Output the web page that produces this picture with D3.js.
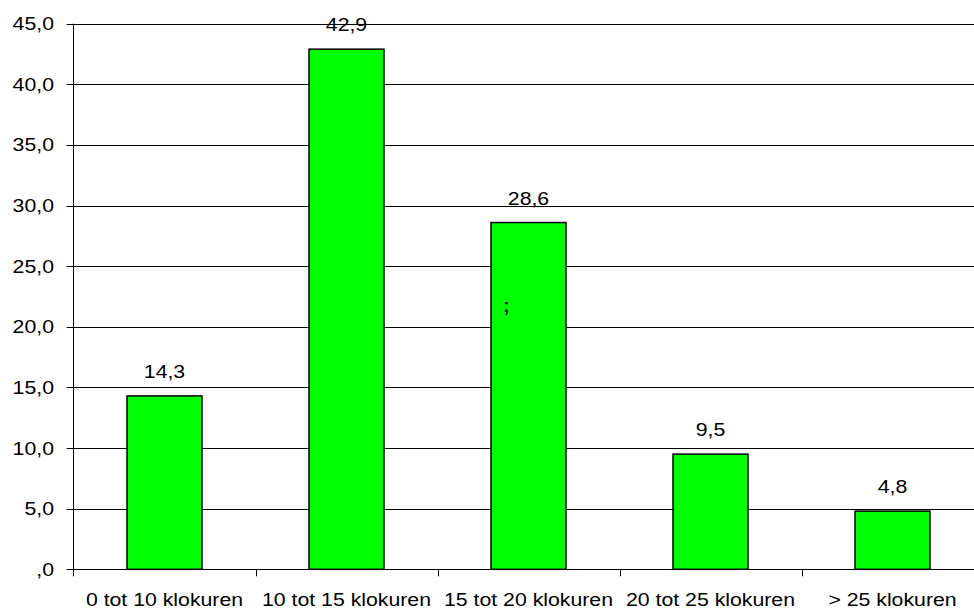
<!DOCTYPE html>
<html><head><meta charset="utf-8">
<script src="https://cdn.jsdelivr.net/npm/d3@7"></script>
<style>html,body{margin:0;padding:0;background:#fff;overflow:hidden}</style>
</head><body>
<svg id="c" width="974" height="609"></svg>
<script>
const categories = ["0 tot 10 klokuren","10 tot 15 klokuren","15 tot 20 klokuren","20 tot 25 klokuren","> 25 klokuren"];
const values = [14.3, 42.9, 28.6, 9.5, 4.8];
const valueLabels = ["14,3","42,9","28,6","9,5","4,8"];
const yTicks = [0,5,10,15,20,25,30,35,40,45];
const yTickLabels = [",0","5,0","10,0","15,0","20,0","25,0","30,0","35,0","40,0","45,0"];

const svg = d3.select("#c");
const pLeft = 73.5, pRight = 983.5, pTop = 23.7, pBottom = 569.3;
const font = "'Liberation Sans', Arial, sans-serif";
const sx = 1.12, fs = 19;

const x = d3.scaleBand().domain(categories).range([pLeft, pRight]).paddingInner(0.588).paddingOuter(0.294);
const y = d3.scaleLinear().domain([0, 45]).range([pBottom, pTop]);
const step = x.step();

// gridlines
svg.append("g").selectAll("line").data(yTicks).join("line")
  .attr("x1", pLeft - 7).attr("x2", 974)
  .attr("y1", d => Math.round(y(d)) + 0.5).attr("y2", d => Math.round(y(d)) + 0.5)
  .attr("stroke", "#000").attr("stroke-width", 1);

// y labels
svg.append("g").selectAll("text").data(yTicks).join("text")
  .attr("transform", d => `translate(54,${y(d) + 6.5}) scale(${sx},1)`)
  .attr("text-anchor", "end")
  .attr("font-family", font).attr("font-size", fs).attr("fill", "#000")
  .text((d, i) => yTickLabels[i]);

// y axis line
svg.append("line").attr("x1", pLeft).attr("x2", pLeft).attr("y1", pTop).attr("y2", pBottom + 7)
  .attr("stroke", "#000").attr("stroke-width", 1);

// x tick marks at band boundaries
const bounds = categories.map((c, i) => pLeft + step * i).slice(1);
svg.append("g").selectAll("line").data(bounds).join("line")
  .attr("x1", d => Math.round(d) + 0.5).attr("x2", d => Math.round(d) + 0.5)
  .attr("y1", pBottom).attr("y2", pBottom + 7)
  .attr("stroke", "#000").attr("stroke-width", 1);

// bars
svg.append("g").selectAll("rect").data(values).join("rect")
  .attr("x", (d, i) => x(categories[i]))
  .attr("y", d => y(d))
  .attr("width", x.bandwidth())
  .attr("height", d => y(0) - y(d))
  .attr("fill", "#00ff00").attr("stroke", "#000").attr("stroke-width", 1.5);

// value labels
svg.append("g").selectAll("text").data(values).join("text")
  .attr("transform", (d, i) => `translate(${x(categories[i]) + x.bandwidth() / 2},${y(d) - 18}) scale(${sx},1)`)
  .attr("text-anchor", "middle")
  .attr("font-family", font).attr("font-size", fs).attr("fill", "#000")
  .text((d, i) => valueLabels[i]);

// category labels
svg.append("g").selectAll("text").data(categories).join("text")
  .attr("transform", d => `translate(${x(d) + x.bandwidth() / 2},606) scale(${sx},1)`)
  .attr("text-anchor", "middle")
  .attr("font-family", font).attr("font-size", fs).attr("fill", "#000")
  .text(d => d);

// stray mark
svg.append("text").attr("x", 506.5).attr("y", 312).attr("text-anchor", "middle")
  .attr("font-family", font).attr("font-size", 19).attr("font-weight", "bold").attr("fill", "#000").text(";");
</script>
</body></html>
